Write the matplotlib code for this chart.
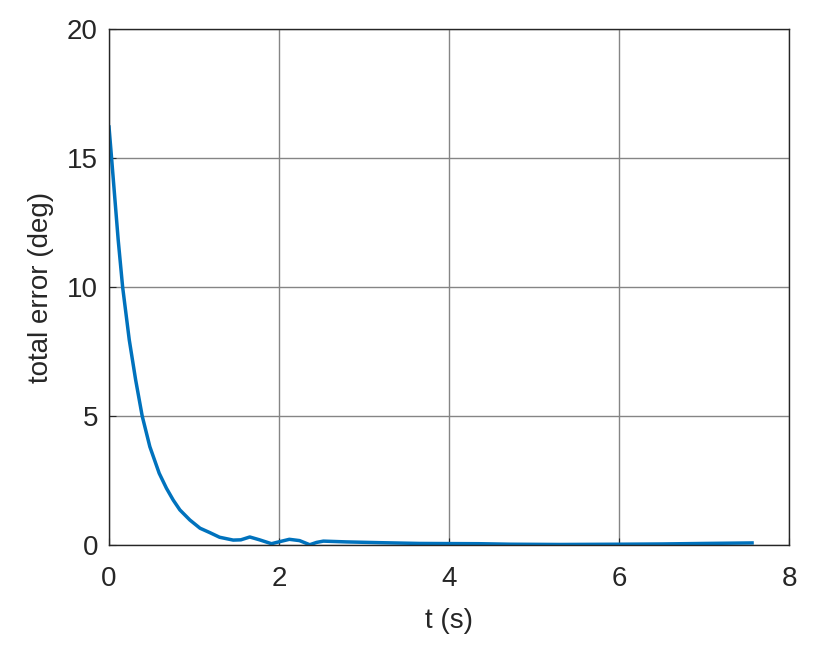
import matplotlib

matplotlib.use('Agg')

import matplotlib.pyplot as plt

# Values
t = [0.0, 0.03, 0.108, 0.16, 0.238, 0.313, 0.39, 0.48, 0.59, 0.675, 0.755, 0.833,
     0.95, 1.07, 1.185, 1.30, 1.46, 1.55, 1.655, 1.77, 1.91, 1.97, 2.12, 2.24,
     2.36, 2.44, 2.52, 2.79, 3.18, 3.65, 4.35, 4.72, 5.3, 6.0, 6.5, 7.0, 7.56]
err = [16.2, 15.0, 11.82, 10.0, 7.95, 6.4, 5.0, 3.81, 2.78, 2.2, 1.74, 1.36,
       0.97, 0.65, 0.48, 0.30, 0.19, 0.2, 0.31, 0.20, 0.05, 0.1, 0.22, 0.17,
       0.01, 0.1, 0.15, 0.12, 0.09, 0.06, 0.05, 0.03, 0.02, 0.03, 0.04, 0.06, 0.08]

plt.rcParams['font.family'] = ['Liberation Sans', 'DejaVu Sans']
plt.rcParams['font.size'] = 20

fig = plt.figure(figsize=(8.16, 6.53), dpi=100)
ax = fig.add_axes([0.1336, 0.1654, 0.8339, 0.7902])

ax.plot(t, err, color='#0072BD', linewidth=2.5, solid_joinstyle='round')

ax.set_xlim(0, 8)
ax.set_ylim(0, 20)
ax.set_xticks([0, 2, 4, 6, 8])
ax.set_yticks([0, 5, 10, 15, 20])
ax.grid(True, color='#858585', linewidth=1.0)
ax.set_axisbelow(True)
ax.tick_params(direction='in', length=5, colors='#262626', labelcolor='#262626')
ax.tick_params(axis='x', pad=15)
ax.tick_params(axis='y', pad=8)
for s in ax.spines.values():
    s.set_color('#262626')
    s.set_linewidth(1.0)

ax.set_xlabel('t (s)', color='#262626', labelpad=12)
ax.set_ylabel('total error (deg)', color='#262626', labelpad=9)

fig.savefig('out.png', dpi=100)
